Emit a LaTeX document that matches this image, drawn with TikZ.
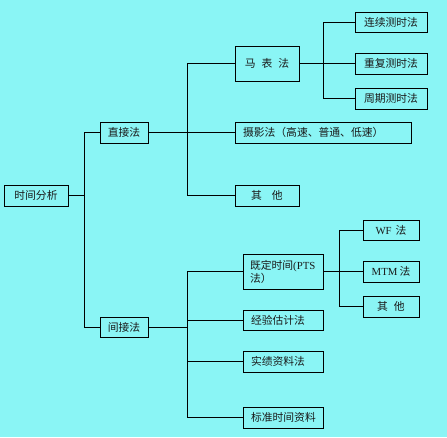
\documentclass[tikz,border=0pt]{standalone}
\usepackage{fontspec}
\setmainfont{Liberation Serif}
\newfontfamily\cjk{Noto Sans CJK SC}
\definecolor{bg}{HTML}{8AF5F5}
\definecolor{ink}{HTML}{1A1A1A}
\begin{document}
\begin{tikzpicture}[x=1pt,y=-1pt,
  box/.style={draw=black, line width=0.8pt, inner ysep=0pt, inner xsep=0pt, text=ink,
    font=\cjk\fontsize{10.8}{13}\selectfont, align=center},
  lbox/.style={box, align=left, inner xsep=8pt},
  conn/.style={draw=black, line width=0.8pt}]
\fill[bg] (0,0) rectangle (447,437);
\useasboundingbox (0,0) rectangle (447,437);

% level 0
\node[box, minimum width=64pt, minimum height=21pt] (root) at (36,195.5) {时间分析};
% level 1
\node[box, minimum width=48pt, minimum height=21pt] (zj) at (124,132.5) {直接法};
\node[box, minimum width=48pt, minimum height=20pt] (jj) at (124,327) {间接法};
% direct children
\node[box, minimum width=64pt, minimum height=35pt] (mb) at (267,63.5) {马\hspace{6pt}表\hspace{6pt}法};
\node[lbox, text width=160pt, minimum height=21pt] (sy) at (323,132.5) {摄影法（高速、普通、低速）};
\node[box, minimum width=64pt, minimum height=21pt] (qa) at (267,195.5) {其\hspace{10pt}他};
% stopwatch children
\node[box, minimum width=72pt, minimum height=20pt] (lx) at (391,22) {连续测时法};
\node[box, minimum width=72pt, minimum height=21pt] (cf) at (391,63.5) {重复测时法};
\node[box, minimum width=72pt, minimum height=21pt] (zq) at (391,98.5) {周期测时法};
% indirect children
\node[lbox, inner xsep=7pt, text width=66pt, minimum height=35pt] (jd) at (283,271.5) {既定时间{\rmfamily(PTS}\\法）};
\node[lbox, text width=64pt, minimum height=20pt] (jy) at (283,320) {经验估计法};
\node[lbox, text width=64pt, minimum height=21pt] (sj) at (283,361.5) {实绩资料法};
\node[lbox, text width=64pt, minimum height=21pt] (bz) at (283,417.5) {标准时间资料};
% PTS children
\node[box, minimum width=56pt, minimum height=20pt] (wf) at (391,230) {{\rmfamily WF}\hspace{4pt}法};
\node[box, minimum width=56pt, minimum height=21pt] (mtm) at (391,271.5) {{\rmfamily MTM}\hspace{2pt}法};
\node[box, minimum width=56pt, minimum height=21pt] (qb) at (391,306.5) {其\hspace{6pt}他};

% junction columns
\coordinate (c0) at (84,0);
\coordinate (c1) at (187,0);
\coordinate (c2) at (323,0);
\coordinate (c3) at (339,0);

% connectors
\draw[conn] (root.east) -- (root.east -| c0);
\draw[conn] (zj.west) -- (zj.west -| c0) -- (jj.west -| c0) -- (jj.west);

\draw[conn] (zj.east) -- (sy.west);
\draw[conn] (mb.west) -- (mb.west -| c1) -- (qa.west -| c1) -- (qa.west);

\draw[conn] (mb.east) -- (cf.west);
\draw[conn] (lx.west) -- (lx.west -| c2) -- (zq.west -| c2) -- (zq.west);

\draw[conn] (jj.east) -- (jj.east -| c1);
\draw[conn] (jd.west) -- (jd.west -| c1) -- (bz.west -| c1) -- (bz.west);
\draw[conn] (jy.west) -- (jy.west -| c1);
\draw[conn] (sj.west) -- (sj.west -| c1);

\draw[conn] (jd.east) -- (mtm.west);
\draw[conn] (wf.west) -- (wf.west -| c3) -- (qb.west -| c3) -- (qb.west);
\end{tikzpicture}
\end{document}
